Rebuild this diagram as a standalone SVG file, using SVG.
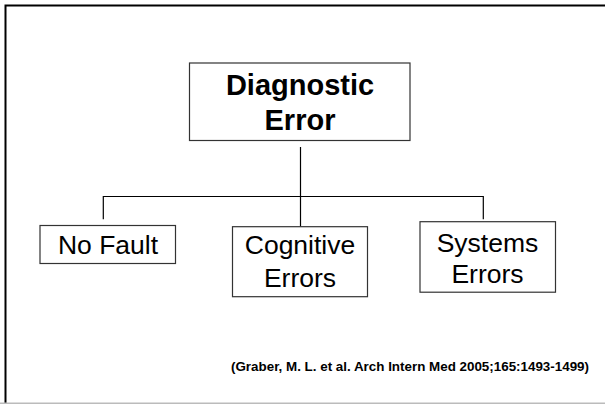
<svg xmlns="http://www.w3.org/2000/svg" width="605" height="404" viewBox="0 0 605 404">
<style>
.box{fill:#fff;stroke:#333;stroke-width:1.2}
.lbl{font-family:"Liberation Sans",Arial,sans-serif;font-size:26.5px;fill:#000;text-anchor:middle}
.ttl{font-family:"Liberation Sans",Arial,sans-serif;font-size:29px;font-weight:bold;fill:#000;text-anchor:middle}
.cit{font-family:"Liberation Sans",Arial,sans-serif;font-size:13px;font-weight:bold;fill:#000}
.con{fill:none;stroke:#000;stroke-width:1.2}
</style>
<rect width="605" height="404" fill="#fff"/>
<path d="M5.5,404 V5.5 H605" fill="none" stroke="#000" stroke-width="2"/>
<line x1="0" y1="403.3" x2="605" y2="403.3" stroke="#bbb" stroke-width="1.5"/>
<g id="connectors">
<path class="con" d="M300.5,147 V226.7"/>
<path class="con" d="M103.3,219.3 V196.5 H483.3 V219.3"/>
</g>
<g id="diagnostic-error">
<rect class="box" x="189.5" y="63" width="220.5" height="77.5"/>
<text class="ttl" x="300" y="95">Diagnostic</text>
<text class="ttl" x="300" y="130">Error</text>
</g>
<g id="no-fault">
<rect class="box" x="40" y="225.5" width="135.5" height="38"/>
<text class="lbl" x="108" y="254">No Fault</text>
</g>
<g id="cognitive-errors">
<rect class="box" x="232.5" y="226.7" width="135" height="70"/>
<text class="lbl" x="300" y="254">Cognitive</text>
<text class="lbl" x="300" y="287">Errors</text>
</g>
<g id="systems-errors">
<rect class="box" x="420" y="221.7" width="135.5" height="70.5"/>
<text class="lbl" x="487.5" y="251.5">Systems</text>
<text class="lbl" x="487.5" y="282.7">Errors</text>
</g>
<text class="cit" x="231" y="370.5" textLength="358" lengthAdjust="spacingAndGlyphs">(Graber, M. L. et al. Arch Intern Med 2005;165:1493-1499)</text>
</svg>
